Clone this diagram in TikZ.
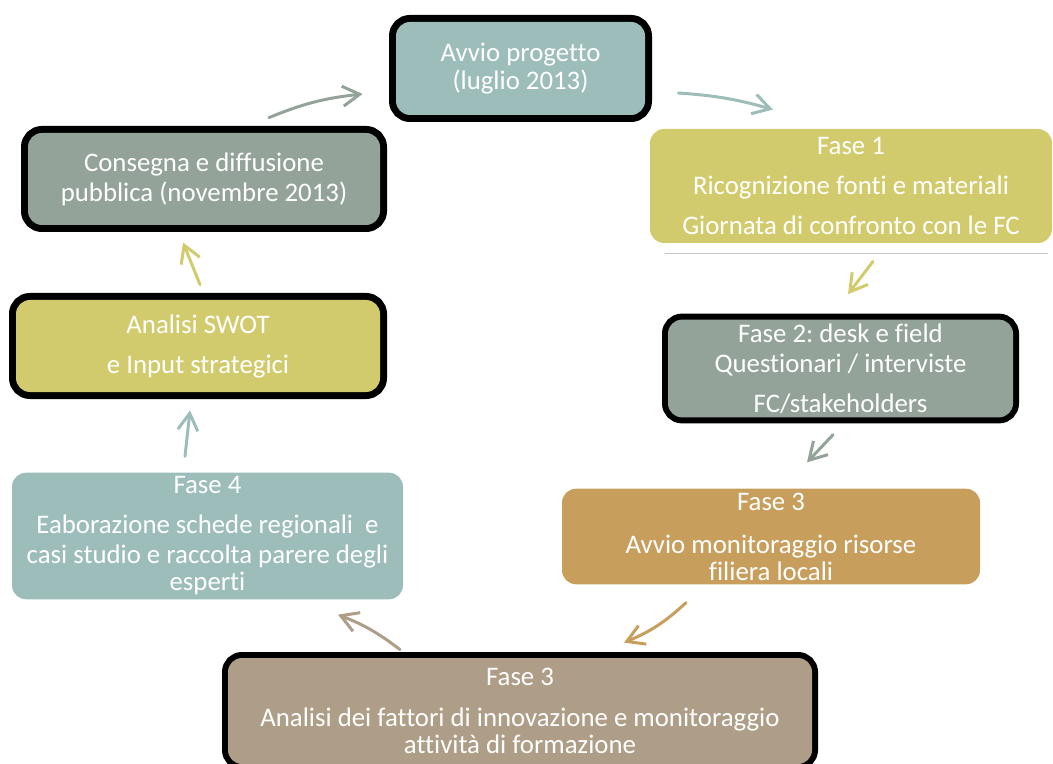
\documentclass[tikz,border=0pt]{standalone}
\usepackage{fontspec}
\setmainfont[Ligatures=NoCommon]{Carlito}
\frenchspacing
\usetikzlibrary{arrows.meta, positioning}
\definecolor{tealGrigio}{HTML}{9CBDBA}
\definecolor{oliva}{HTML}{D2CB6D}
\definecolor{verdeGrigio}{HTML}{94A399}
\definecolor{oro}{HTML}{C89E5C}
\definecolor{tortora}{HTML}{AE9E87}
\tikzset{
  cy/box/.style={rectangle, rounded corners=7pt, draw=none, fill=#1,
    text=white, align=center, inner sep=2pt,
    font=\fontsize{13.4}{14}\selectfont},
  cy/halo/.style={preaction={draw=black, line width=#1}},
  cy/arr/.style={-{Straight Barb[length=8.5pt,width=10pt]}, line width=1.5pt,
    line cap=round, draw=#1},
  cy/rule/.style={draw=gray!45, line width=0.5pt}
}

\begin{document}
\begin{tikzpicture}[x=0.5pt, y=-0.5pt]
  \useasboundingbox (0,0) rectangle (1053,764);

  \node[cy/box=tealGrigio, cy/halo=7pt, minimum width=124.5pt, minimum height=46.5pt]
        (avvio) at (520.5,68.5) {Avvio progetto\\(luglio 2013)};
  \node[cy/box=oliva, minimum width=201pt, minimum height=57pt]
        (fase1) at (851,186) {Fase 1\\[6pt]Ricognizione fonti e materiali\\[6pt]
        Giornata di confronto con le FC};
  \node[cy/box=verdeGrigio, cy/halo=6pt, minimum width=172.5pt, minimum height=46.5pt]
        (fase2) at (840.5,368.5) {Fase 2: desk e field\\[1pt]Questionari / interviste\\[6pt]
        FC/stakeholders};
  \node[cy/box=oro, minimum width=209pt, minimum height=46.5pt]
        (fase3a) at (771,536.5) {Fase 3\\[7.5pt]Avvio monitoraggio risorse\\[-0.5pt]
        filiera locali};
  \node[cy/box=tortora, cy/halo=6pt, minimum width=292pt, minimum height=53pt]
        (fase3b) at (520,711) {Fase 3\\[6.5pt]Analisi dei fattori di innovazione e monitoraggio\\[-0.5pt]
        attività di formazione};
  \node[cy/box=tealGrigio, minimum width=195.5pt, minimum height=62pt]
        (fase4) at (207.5,536) {Fase 4\\[6pt]Eaborazione schede regionali\ \ e\\[1pt]
        casi studio e raccolta parere degli\\[-0.5pt]esperti};
  \node[cy/box=oliva, cy/halo=7pt, minimum width=182pt, minimum height=46pt]
        (swot) at (198,346) {Analisi SWOT\\[6pt]e Input strategici};
  \node[cy/box=verdeGrigio, cy/halo=7pt, minimum width=176pt, minimum height=46pt]
        (consegna) at (204,179) {Consegna e diffusione\\[1pt]pubblica (novembre 2013)};

  \draw[cy/rule] ([xshift=7.5pt,yshift=-5pt]fase1.south west)
        -- ([xshift=-2pt,yshift=-5pt]fase1.south east);

  \draw[cy/arr=verdeGrigio] ([xshift=32.5pt,yshift=7.5pt]consegna.north)
        to[bend left=8] ([xshift=-16.5pt,yshift=-12.75pt]avvio.west);
  \draw[cy/arr=tealGrigio] ([xshift=16.5pt,yshift=-12.25pt]avvio.east)
        to[bend left=6] ([xshift=-39pt,yshift=9.5pt]fase1.north);
  \draw[cy/arr=oliva] ([xshift=11pt,yshift=-9pt]fase1.south)
        -- ([xshift=3.75pt,yshift=12.5pt]fase2.north);
  \draw[cy/arr=verdeGrigio] ([xshift=-3.75pt,yshift=-8.5pt]fase2.south)
        -- ([xshift=18pt,yshift=13pt]fase3a.north);
  \draw[cy/arr=oro] ([xshift=-42.5pt,yshift=-9pt]fase3a.south)
        to[bend left=10] ([xshift=52pt,yshift=7.5pt]fase3b.north);
  \draw[cy/arr=tortora] ([xshift=-60pt,yshift=4pt]fase3b.north)
        to[bend right=8] ([xshift=65.25pt,yshift=-7.5pt]fase4.south);
  \draw[cy/arr=tealGrigio] ([xshift=-11.25pt,yshift=8pt]fase4.north)
        -- ([xshift=-4pt,yshift=-9pt]swot.south);
  \draw[cy/arr=oliva] ([xshift=1pt,yshift=7.5pt]swot.north)
        -- ([xshift=-10.5pt,yshift=-8.5pt]consegna.south);
\end{tikzpicture}
\end{document}
